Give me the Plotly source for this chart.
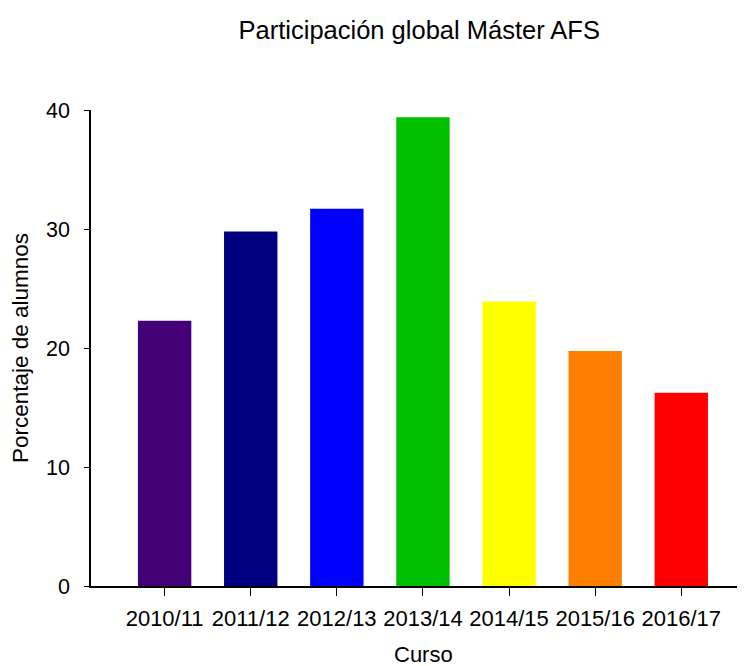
import plotly.graph_objects as go

cursos = ["2010/11", "2011/12", "2012/13", "2013/14", "2014/15", "2015/16", "2016/17"]
porcentaje = [22.3, 29.8, 31.7, 39.4, 23.9, 19.75, 16.25]
colores = ["#440077", "#000080", "#0000FF", "#00C000", "#FFFF00", "#FF8000", "#FF0000"]

font_family = "Liberation Sans, Arial, sans-serif"

fig = go.Figure(
    go.Bar(
        x=cursos,
        y=porcentaje,
        marker=dict(color=colores, line=dict(width=0)),
        width=0.62,
    )
)

fig.update_layout(
    width=737,
    height=658,
    margin=dict(l=83, r=0, t=102, b=80),
    paper_bgcolor="white",
    plot_bgcolor="white",
    showlegend=False,
    font=dict(family=font_family, color="black", size=22),
    title=dict(
        text="Participación global Máster AFS",
        x=0.558,
        xanchor="center",
        y=0.967,
        yanchor="middle",
        font=dict(size=25.5, family=font_family, color="black"),
    ),
    annotations=[
        dict(
            text="Curso",
            xref="paper",
            yref="paper",
            x=0.508,
            y=-0.143,
            xanchor="center",
            yanchor="middle",
            showarrow=False,
            borderpad=0,
            font=dict(size=22, family=font_family, color="black"),
        )
    ],
)

fig.update_xaxes(
    type="category",
    range=[-0.855, 6.74],
    automargin=False,
    showline=True,
    linecolor="black",
    linewidth=1.5,
    ticks="outside",
    ticklen=8,
    tickcolor="black",
    tickwidth=1,
    ticklabelstandoff=4,
    showgrid=False,
    zeroline=False,
    tickfont=dict(size=22),
)

fig.update_yaxes(
    range=[0, 40],
    tickvals=[0, 10, 20, 30, 40],
    automargin=False,
    showline=True,
    linecolor="black",
    linewidth=1.5,
    ticks="outside",
    ticklen=5,
    tickcolor="black",
    ticklabelstandoff=10,
    showgrid=False,
    zeroline=False,
    tickfont=dict(size=21.5),
    title=dict(text="Porcentaje de alumnos", font=dict(size=22.5), standoff=15),
)

fig.write_html("out.html")
